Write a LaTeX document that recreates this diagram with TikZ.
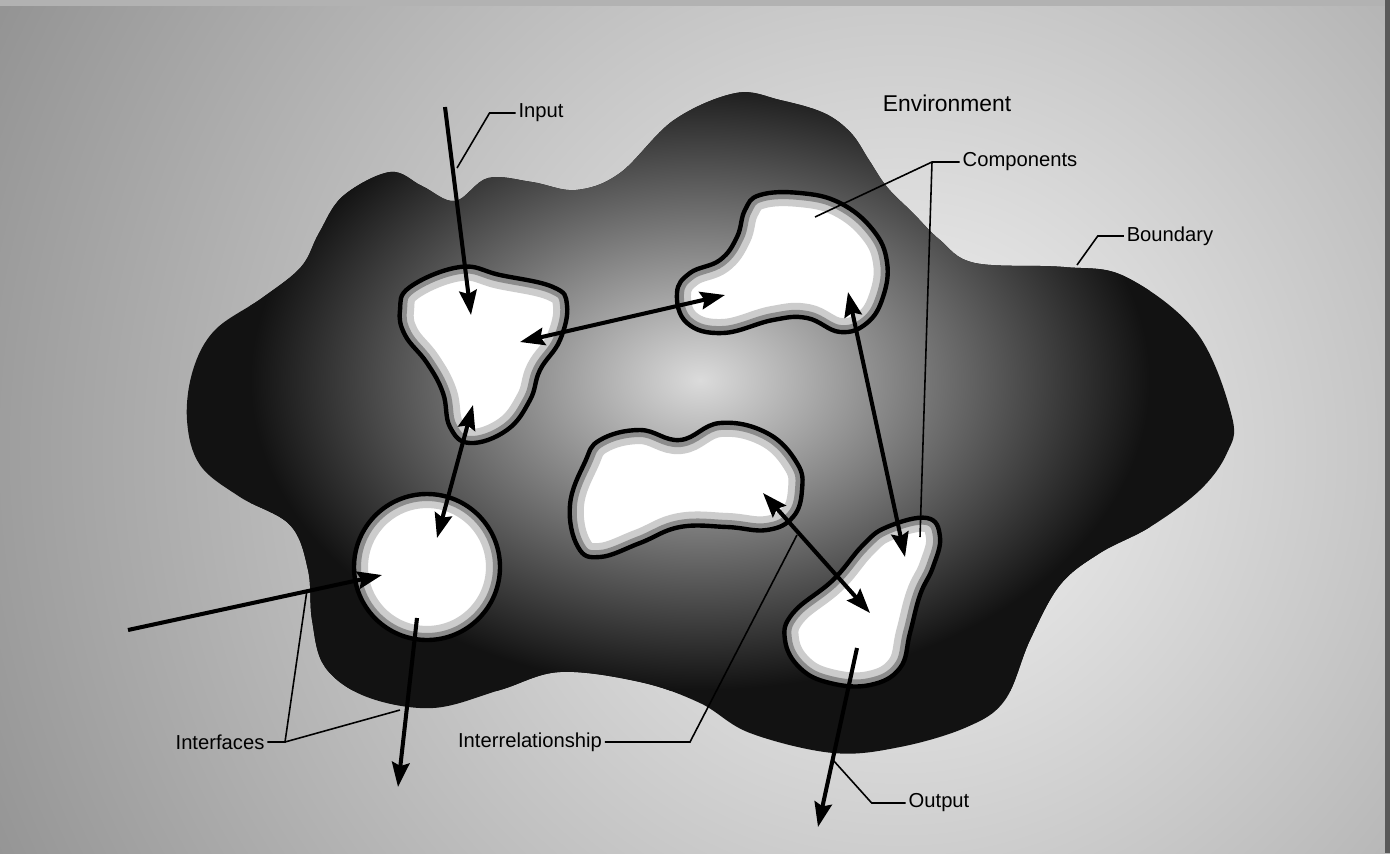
\documentclass[tikz,border=0pt]{standalone}
\usepackage{fontspec}
\setmainfont{Liberation Sans}
\usetikzlibrary{arrows.meta,positioning}

% outlines (pixel-like units, y downwards)
\newcommand{\boundaryPath}{plot[smooth cycle, tension=0.6] coordinates {(390,172) (422,186) (455,201) (488,178) (532,182) (576,190) (620,173) (674,120) (736,93) (780,100) (824,113) (851,133) (869,160) (887,187) (913,213) (940,240) (975,263) (1064,267) (1126,277) (1197,333) (1232,417) (1227,453) (1200,490) (1150,527) (1100,553) (1060,585) (1030,640) (1005,700) (967,727) (900,747) (833,753) (750,733) (700,703) (640,682) (560,672) (500,690) (433,708) (367,697) (325,667) (312,620) (308,570) (290,525) (240,497) (200,465) (187,420) (193,370) (215,330) (262,298) (301,267) (319,233) (343,196)}}
\newcommand{\blobTri}{plot[smooth cycle, tension=0.7] coordinates {(410,287) (460,267) (500,275) (553,287) (567,305) (560,340) (540,370) (530,400) (507,430) (470,443) (450,427) (443,393) (427,363) (405,335) (400,310)}}
\newcommand{\blobKid}{plot[smooth cycle, tension=0.7] coordinates {(760,195) (800,193) (840,203) (873,230) (887,262) (883,297) (867,323) (840,332) (807,318) (773,320) (723,333) (687,323) (677,293) (690,273) (720,260) (737,237) (745,210)}}
\newcommand{\blobMid}{plot[smooth cycle, tension=0.7] coordinates {(600,440) (640,430) (680,440) (720,423) (767,433) (797,463) (802,490) (793,517) (767,530) (727,527) (680,527) (640,543) (600,557) (578,547) (570,505) (585,462)}}
\newcommand{\blobBoot}{plot[smooth cycle, tension=0.7] coordinates {(887,527) (927,518) (940,537) (933,567) (920,595) (910,633) (900,668) (870,685) (830,683) (800,668) (785,640) (793,613) (833,580) (863,545)}}
\newcommand{\blobCirc}{(427,567) circle [radius=73]}

\begin{document}
\begin{tikzpicture}[x=0.02cm, y=-0.02cm,
  flow/.style={line width=2.3pt, -{Stealth[length=14pt,width=10pt,inset=2pt]}},
  flowboth/.style={line width=2.3pt, {Stealth[length=14pt,width=10pt,inset=2pt]}-{Stealth[length=14pt,width=10pt,inset=2pt]}},
  leader/.style={line width=0.9pt},
  lbl/.style={font=\fontsize{11.5}{13}\selectfont, inner sep=1.5pt}]
  \useasboundingbox (0,0) rectangle (1390,853);

  % Environment background
  \begin{scope}
    \clip (0,0) rectangle (1390,853);
    \shade[inner color=black!4, outer color=black!42] (-100,-550) rectangle (1900,1450);
    \fill[black!30] (0,0) rectangle (1390,6);
    \fill[black!65] (1385,0) rectangle (1390,853);
  \end{scope}

  % System boundary, dark at the edge and lighter inside
  \fill[black!93] \boundaryPath;
  \begin{scope}
    \clip \boundaryPath;
    \shade[inner color=black!14, outer color=black!93] (250,70) rectangle (1150,690);
  \end{scope}

  % Components
  \foreach \c in {\blobTri,\blobKid,\blobMid,\blobBoot,\blobCirc} {
    \fill[white] \c;
    \begin{scope}
      \clip \c;
      \draw[black!20, line width=16pt] \c;
      \draw[black!45, line width=8pt] \c;
    \end{scope}
    \draw[line width=2.5pt] \c;
  }

  % Arrow ends
  \coordinate (inStart) at (445,107);
  \coordinate (inEnd) at (471,315);
  \coordinate (triRight) at (520,342);
  \coordinate (kidLeft) at (725,295);
  \coordinate (triLow) at (473,405);
  \coordinate (circTop) at (437,538);
  \coordinate (sideStart) at (128,630);
  \coordinate (circLeft) at (382,575);
  \coordinate (circLow) at (417,618);
  \coordinate (circOut) at (398,787);
  \coordinate (kidLow) at (848,292);
  \coordinate (bootTop) at (905,557);
  \coordinate (midRight) at (763,493);
  \coordinate (bootMid) at (870,613);
  \coordinate (bootLow) at (857,648);
  \coordinate (bootOut) at (818,827);

  % Flows
  \draw[flow] (inStart) -- (inEnd);
  \draw[flowboth] (triRight) -- (kidLeft);
  \draw[flowboth] (triLow) -- (circTop);
  \draw[flow] (sideStart) -- (circLeft);
  \draw[flow] (circLow) -- (circOut);
  \draw[flowboth] (kidLow) -- (bootTop);
  \draw[flowboth] (midRight) -- (bootMid);
  \draw[flow] (bootLow) -- (bootOut);

  % Labels
  \node[font=\fontsize{13}{15}\selectfont] (lblEnv) at (947,103) {Environment};
  \node[lbl] (lblInput) at (541,113) {Input};
  \node[lbl] (lblComp) at (1020,162) {Components};
  \node[lbl] (lblBound) at (1170,236) {Boundary};
  \node[lbl] (lblIntf) at (220,742) {Interfaces};
  \node[lbl] (lblRel) at (530,742) {Interrelationship};
  \node[lbl] (lblOut) at (939,803) {Output};

  % Leader lines
  \coordinate (inputEnd) at (457,168);
  \coordinate (compFork) at (932,162);
  \coordinate (compEndA) at (815,217);
  \coordinate (compEndB) at (920,537);
  \coordinate (boundEnd) at (1077,265);
  \coordinate (intfFork) at (285,742);
  \coordinate (intfEndA) at (307,590);
  \coordinate (intfEndB) at (400,710);
  \coordinate (relBend) at (690,742);
  \coordinate (relEnd) at (797,535);
  \coordinate (outEnd) at (833,760);

  \draw[leader] (lblInput.west) -- ++(-26,0) -- (inputEnd);
  \draw[leader] (lblComp.west) -- (compFork) -- (compEndA);
  \draw[leader] (compFork) -- (compEndB);
  \draw[leader] (lblBound.west) -- ++(-26,0) -- (boundEnd);
  \draw[leader] (lblIntf.east) -- (intfFork) -- (intfEndA);
  \draw[leader] (intfFork) -- (intfEndB);
  \draw[leader] (lblRel.east) -- (relBend) -- (relEnd);
  \draw[leader] (lblOut.west) -- ++(-34,0) -- (outEnd);
\end{tikzpicture}
\end{document}
